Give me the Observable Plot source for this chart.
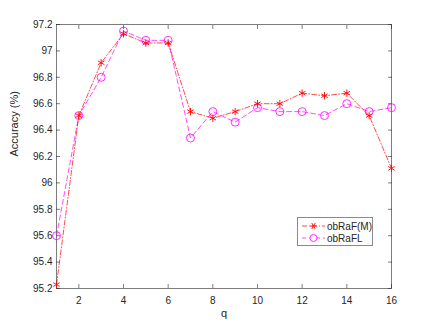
<!DOCTYPE html>
<html><head><meta charset="utf-8">
<script src="https://cdn.jsdelivr.net/npm/d3@7"></script>
<script src="https://cdn.jsdelivr.net/npm/@observablehq/plot@0.6"></script>
<style>
html,body{margin:0;padding:0;background:#fff;}
#wrap{position:relative;width:432px;height:324px;font-family:"Liberation Sans",Arial,sans-serif;}
#legend{position:absolute;left:297px;top:217px;width:74px;height:27px;border:1px solid #8a8a8a;background:#fff;font-size:10px;color:#262626;}
#legend svg{position:absolute;left:0;top:0;}
</style>
</head><body><div id="wrap"></div>
<script>
const q = [1,2,3,4,5,6,7,8,9,10,11,12,13,14,15,16];
const obRaFM = [95.23,96.51,96.91,97.13,97.06,97.06,96.54,96.49,96.54,96.60,96.60,96.68,96.66,96.68,96.51,96.11];
const obRaFL = [95.60,96.51,96.80,97.15,97.08,97.08,96.34,96.54,96.46,96.57,96.54,96.54,96.51,96.60,96.54,96.57];
const xTicks = [2,4,6,8,10,12,14,16];
const yTicks = [95.2,95.4,95.6,95.8,96,96.2,96.4,96.6,96.8,97,97.2];
const seriesNames = ["obRaF(M)","obRaFL"];

const dataM = q.map((v,i)=>({q:v, acc:obRaFM[i]}));
const dataL = q.map((v,i)=>({q:v, acc:obRaFL[i]}));
const fmt = d => d3.format(".1~f")(d);
const axisColor = "#262626";

const chart = Plot.plot({
  width: 432, height: 324,
  marginLeft: 56, marginRight: 41, marginTop: 24, marginBottom: 36,
  style: {fontFamily: '"Liberation Sans", Arial, sans-serif', fontSize: "10px", color: axisColor, background: "#fff"},
  x: {domain: [1,16], label: null},
  y: {domain: [95.2,97.2], label: null},
  marks: [
    Plot.frame({stroke: axisColor, strokeWidth: 0.6}),
    Plot.axisX(xTicks, {anchor: "bottom", tickSize: 0, tickPadding: 8, tickFormat: fmt, fill: axisColor}),
    Plot.axisX(xTicks, {anchor: "bottom", tickSize: -4, text: null, stroke: axisColor, strokeWidth: 0.6}),
    Plot.axisX(xTicks, {anchor: "top", tickSize: -4, text: null, stroke: axisColor, strokeWidth: 0.6}),
    Plot.axisY(yTicks, {anchor: "left", tickSize: 0, tickPadding: 4, tickFormat: fmt, fill: axisColor}),
    Plot.axisY(yTicks, {anchor: "left", tickSize: -4, text: null, stroke: axisColor, strokeWidth: 0.6}),
    Plot.axisY(yTicks, {anchor: "right", tickSize: -4, text: null, stroke: axisColor, strokeWidth: 0.6}),
    Plot.line(dataL, {x: "q", y: "acc", stroke: "#ff00ff", strokeWidth: 0.7, strokeDasharray: "5,3"}),
    Plot.dot(dataL, {x: "q", y: "acc", stroke: "#ff00ff", r: 4, strokeWidth: 0.8}),
    Plot.line(dataM, {x: "q", y: "acc", stroke: "#ff0000", strokeWidth: 0.7, strokeDasharray: "5,2,1,2"}),
    Plot.dot(dataM, {x: "q", y: "acc", stroke: "#ff0000", symbol: "asterisk", r: 3.5, strokeWidth: 0.9}),
    Plot.text(["q"], {frameAnchor: "bottom", dy: 28, fontSize: 11, fill: axisColor}),
    Plot.text(["Accuracy (%)"], {frameAnchor: "left", dx: -42, rotate: -90, fontSize: 11, fill: axisColor})
  ]
});
const wrap = document.getElementById("wrap");
wrap.appendChild(chart);

const leg = document.createElement("div");
leg.id = "legend";
leg.innerHTML = `<svg width="74" height="27">
  <line x1="4" x2="27" y1="8" y2="8" stroke="#ff0000" stroke-width="0.7" stroke-dasharray="5,2,1,2"/>
  <g transform="translate(15.5,8)" stroke="#ff0000" stroke-width="0.9">
    <line x1="-3.5" x2="3.5" y1="0" y2="0"/><line x1="-1.75" x2="1.75" y1="-3" y2="3"/><line x1="-1.75" x2="1.75" y1="3" y2="-3"/>
  </g>
  <text x="29" y="11.5" fill="#262626" font-size="10">${seriesNames[0]}</text>
  <line x1="4" x2="27" y1="20" y2="20" stroke="#ff00ff" stroke-width="0.7" stroke-dasharray="4,3"/>
  <circle cx="15.5" cy="20" r="3.5" fill="white" stroke="#ff00ff" stroke-width="0.8"/>
  <text x="29" y="23.5" fill="#262626" font-size="10">${seriesNames[1]}</text>
</svg>`;
wrap.appendChild(leg);
</script>
</body></html>
